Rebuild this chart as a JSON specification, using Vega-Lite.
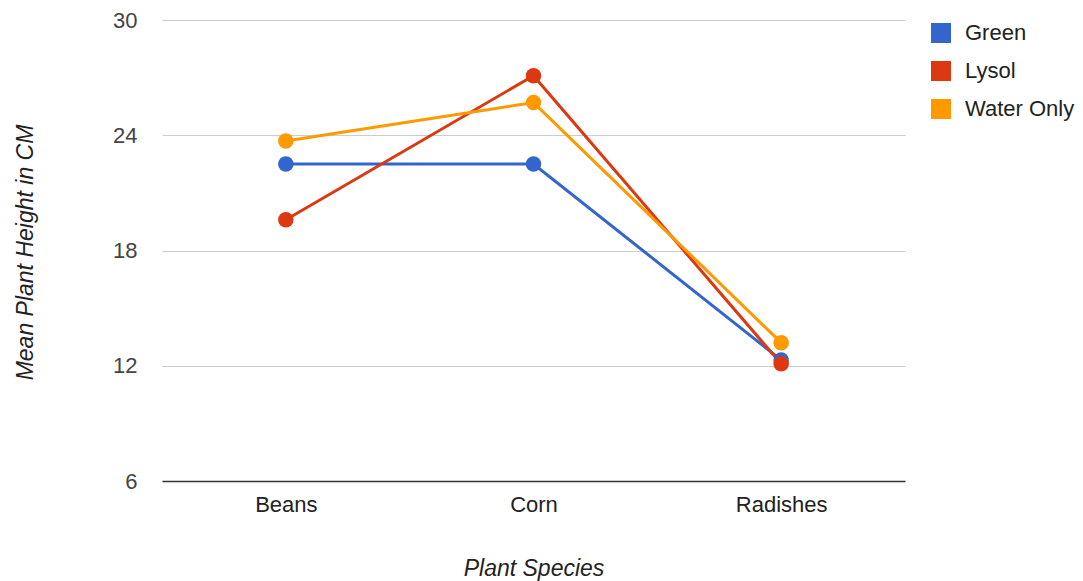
{
  "$schema": "https://vega.github.io/schema/vega-lite/v6.json",
  "width": 743,
  "height": 461,
  "autosize": {"type": "none"},
  "padding": {"left": 162, "top": 20, "right": 178, "bottom": 100},
  "background": "white",
  "config": {
    "font": "Liberation Sans",
    "view": {"stroke": null}
  },
  "data": {
    "values": [
      {"species": "Beans", "treatment": "Green", "height": 22.5},
      {"species": "Corn", "treatment": "Green", "height": 22.5},
      {"species": "Radishes", "treatment": "Green", "height": 12.3},
      {"species": "Beans", "treatment": "Lysol", "height": 19.6},
      {"species": "Corn", "treatment": "Lysol", "height": 27.1},
      {"species": "Radishes", "treatment": "Lysol", "height": 12.1},
      {"species": "Beans", "treatment": "Water Only", "height": 23.7},
      {"species": "Corn", "treatment": "Water Only", "height": 25.7},
      {"species": "Radishes", "treatment": "Water Only", "height": 13.2}
    ]
  },
  "encoding": {
    "x": {
      "field": "species",
      "type": "nominal",
      "sort": ["Beans", "Corn", "Radishes"],
      "scale": {"type": "point", "padding": 0.5},
      "axis": {
        "title": "Plant Species",
        "titleFont": "Liberation Sans",
        "titleFontStyle": "italic",
        "titleFontWeight": "normal",
        "titleFontSize": 23,
        "titleColor": "#222222",
        "titleY": 87,
        "titleBaseline": "middle",
        "labelAngle": 0,
        "labelFontSize": 22,
        "labelColor": "#222222",
        "labelPadding": 13,
        "ticks": false,
        "grid": false,
        "domain": true,
        "domainColor": "#333333",
        "domainWidth": 1.5
      }
    },
    "y": {
      "field": "height",
      "type": "quantitative",
      "scale": {"domain": [6, 30], "nice": false, "zero": false},
      "axis": {
        "values": [6, 12, 18, 24, 30],
        "title": "Mean Plant Height in CM",
        "titleFont": "Liberation Sans",
        "titleFontStyle": "italic",
        "titleFontWeight": "normal",
        "titleFontSize": 23,
        "titleColor": "#222222",
        "titleAngle": -90,
        "titleBaseline": "middle",
        "titleX": -137,
        "titleY": 232,
        "labelFontSize": 22,
        "labelColor": "#444444",
        "labelPadding": 25,
        "ticks": false,
        "domain": false,
        "grid": true,
        "gridColor": "#cccccc",
        "gridWidth": 1
      }
    },
    "color": {
      "field": "treatment",
      "type": "nominal",
      "scale": {
        "domain": ["Green", "Lysol", "Water Only"],
        "range": ["#3366cc", "#dc3912", "#ff9900"]
      },
      "legend": {
        "title": null,
        "orient": "none",
        "legendX": 768,
        "legendY": 2,
        "symbolType": "square",
        "symbolSize": 400,
        "symbolStrokeWidth": 0,
        "symbolOpacity": 1,
        "labelFontSize": 22,
        "labelColor": "#222222",
        "labelOffset": 13,
        "rowPadding": 16
      }
    }
  },
  "layer": [
    {"mark": {"type": "line", "strokeWidth": 3}},
    {"mark": {"type": "point", "filled": true, "opacity": 1, "size": 240}}
  ]
}
